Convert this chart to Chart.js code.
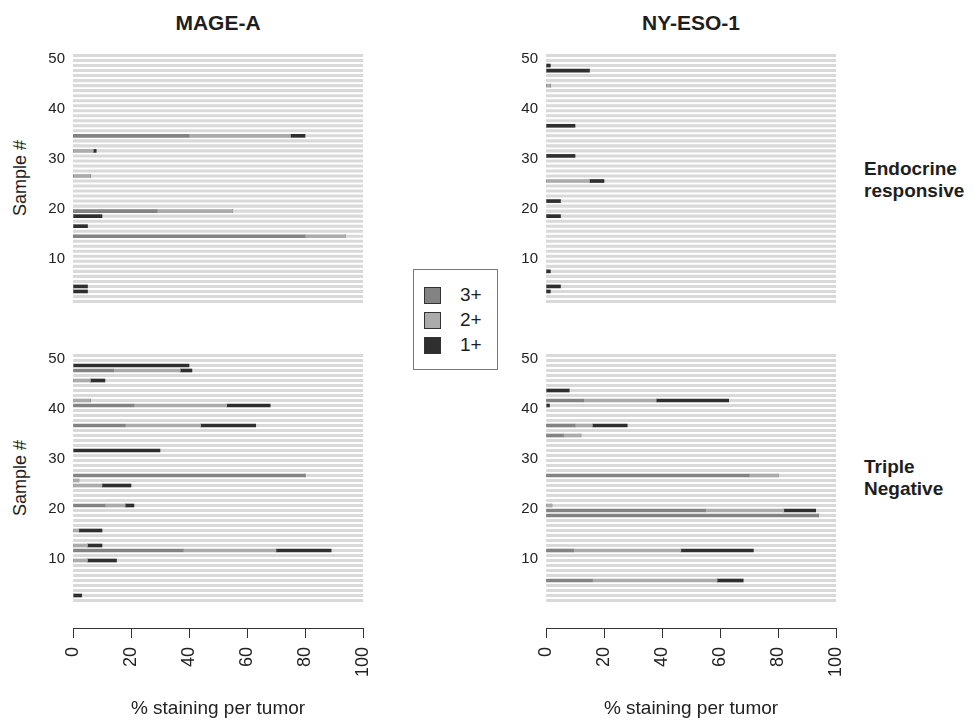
<!DOCTYPE html>
<html>
<head>
<meta charset="utf-8">
<script src="https://cdn.jsdelivr.net/npm/chart.js@4.4.0/dist/chart.umd.min.js"></script>
<style>
  html, body { margin: 0; padding: 0; background: #fff; }
  body { width: 974px; height: 721px; position: relative; overflow: hidden;
         font-family: 'Liberation Sans', Arial, sans-serif; color: #1e1e1e; }
  canvas { position: absolute; }
  .title { position: absolute; top: 11px; width: 290px; text-align: center;
           font-weight: bold; font-size: 21px; line-height: 24px; }
  .ylab { position: absolute; left: 20px; font-size: 18px; white-space: nowrap;
          transform: translate(-50%, -50%) rotate(-90deg); }
  .group { position: absolute; left: 864px; font-weight: bold; font-size: 19px;
           line-height: 22px; white-space: nowrap; }
  #legend { position: absolute; left: 413px; top: 269px; width: 83px; height: 99px;
            border: 1px solid #777; background: #fff; }
  .key { position: absolute; left: 10px; height: 16px; }
  .key span.box { position: absolute; left: 0; top: 0; width: 15px; height: 15px; border: 1px solid #333; }
  .key span.txt { position: absolute; left: 36px; top: -3px; font-size: 19px; line-height: 22px; color: #1e1e1e; }
</style>
</head>
<body>
<div class="title" style="left:73px">MAGE-A</div>
<div class="title" style="left:546px">NY-ESO-1</div>
<div class="ylab" style="top:178px">Sample #</div>
<div class="ylab" style="top:478px">Sample #</div>
<div class="group" style="top:158px">Endocrine<br>responsive</div>
<div class="group" style="top:456px">Triple<br>Negative</div>

<canvas id="mageEndo" width="380" height="280" style="left:0;top:40px"></canvas>
<canvas id="nyesoEndo" width="373" height="280" style="left:480px;top:40px"></canvas>
<canvas id="mageTn" width="380" height="381" style="left:0;top:340px"></canvas>
<canvas id="nyesoTn" width="373" height="381" style="left:480px;top:340px"></canvas>
<div id="legend"></div>

<script>
const sampleNumbers = [1, 2, 3, 4, 5, 6, 7, 8, 9, 10, 11, 12, 13, 14, 15, 16, 17, 18, 19, 20,
  21, 22, 23, 24, 25, 26, 27, 28, 29, 30, 31, 32, 33, 34, 35, 36, 37, 38, 39, 40,
  41, 42, 43, 44, 45, 46, 47, 48, 49, 50];
const gradeLabels = ['3+', '2+', '1+'];
const gradeColors = ['#838383', '#ababab', '#2f2f2f'];
const rowColor = '#d9d9d9';
const xTicks = [0, 20, 40, 60, 80, 100];
const yTicks = [10, 20, 30, 40, 50];

// MAGE-A, endocrine responsive
const mageEndoSamples = [3, 4, 14, 16, 18, 19, 26, 31, 34];
const mageEndo3 = [0, 0, 80, 0, 0, 29, 0, 0, 40];
const mageEndo2 = [0, 0, 14, 0, 0, 26, 6, 7, 35];
const mageEndo1 = [5, 5, 0, 5, 10, 0, 0, 1, 5];

// NY-ESO-1, endocrine responsive
const nyesoEndoSamples = [3, 4, 7, 18, 21, 25, 30, 36, 44, 47, 48];
const nyesoEndo3 = [0, 0, 0, 0, 0, 0, 0, 0, 0, 0, 0];
const nyesoEndo2 = [0, 0, 0, 0, 0, 15, 0, 0, 1.5, 0, 0];
const nyesoEndo1 = [1.5, 5, 1.5, 5, 5, 5, 10, 10, 0, 15, 1.5];

// MAGE-A, triple negative
const mageTnSamples = [2, 9, 11, 12, 15, 20, 24, 25, 26, 31, 36, 40, 41, 45, 47, 48];
const mageTn3 = [0, 0, 38, 0, 0, 11, 0, 0, 80, 0, 18, 21, 0, 0, 14, 0];
const mageTn2 = [0, 5, 32, 5, 2, 7, 10, 2, 0, 0, 26, 32, 6, 6, 23, 0];
const mageTn1 = [3, 10, 19, 5, 8, 3, 10, 0, 0, 30, 19, 15, 0, 5, 4, 40];

// NY-ESO-1, triple negative
const nyesoTnSamples = [5, 11, 18, 19, 20, 26, 34, 36, 40, 41, 43];
const nyesoTn3 = [16, 9.5, 94, 55, 0, 70, 6, 10, 0, 13, 0];
const nyesoTn2 = [43, 37, 0, 27, 2, 10, 6, 6, 0, 25, 0];
const nyesoTn1 = [9, 25, 0, 11, 0, 0, 0, 12, 1.2, 25, 8];

Chart.defaults.font.family = "'Liberation Sans', Arial, sans-serif";
Chart.defaults.color = '#333';

function makePanel(canvasId, samples, grades, withXAxis, yAxisWidth) {
  const xMax = xTicks[xTicks.length - 1];
  const datasets = grades.map((vals, g) => ({
    label: gradeLabels[g],
    data: samples.map((s, i) => ({ x: vals[i], y: s })),
    backgroundColor: gradeColors[g],
    stack: 'stain',
    grouped: false,
    barThickness: 3,
    order: 1
  }));
  datasets.push({
    label: 'row',
    data: sampleNumbers.map(s => ({ x: xMax, y: s })),
    backgroundColor: rowColor,
    stack: 'row',
    grouped: false,
    barThickness: 2.4,
    order: 5
  });

  return new Chart(document.getElementById(canvasId), {
    type: 'bar',
    data: { datasets },
    options: {
      indexAxis: 'y',
      responsive: false,
      animation: false,
      layout: { padding: { top: 13, bottom: withXAxis ? 0 : 16, left: 0, right: 17 } },
      plugins: { legend: { display: false }, tooltip: { enabled: false } },
      scales: {
        x: {
          type: 'linear',
          stacked: true,
          min: 0,
          max: xMax,
          display: withXAxis,
          afterBuildTicks: s => { s.ticks = xTicks.map(v => ({ value: v })); },
          afterFit: s => {
            if (withXAxis) s.height = 93;
            // keep the plot width fixed; the rotated end labels fit in the canvas padding
            s.paddingLeft = 0;
            s.paddingRight = 0;
          },
          grid: { drawOnChartArea: false, drawTicks: true, tickLength: 10, color: '#333', lineWidth: 1 },
          border: { display: true, color: '#333', width: 1 },
          ticks: { font: { size: 18 }, color: '#222', minRotation: 90, maxRotation: 90, padding: 9, autoSkip: false },
          title: { display: true, text: '% staining per tumor', font: { size: 19 }, color: '#222', padding: { top: 0, bottom: 1 } }
        },
        y: {
          type: 'linear',
          offset: false,
          min: withXAxis ? -4.5 : 0.5,
          max: 50.5,
          afterBuildTicks: s => { s.ticks = yTicks.map(v => ({ value: v })); },
          afterFit: s => { s.width = yAxisWidth; s.paddingTop = 0; s.paddingBottom = 0; },
          grid: { display: false, drawTicks: false },
          border: { display: false },
          ticks: { font: { size: 15 }, color: '#222', padding: 8, labelOffset: 3 }
        }
      }
    }
  });
}

makePanel('mageEndo', mageEndoSamples, [mageEndo3, mageEndo2, mageEndo1], false, 73);
makePanel('nyesoEndo', nyesoEndoSamples, [nyesoEndo3, nyesoEndo2, nyesoEndo1], false, 66);
makePanel('mageTn', mageTnSamples, [mageTn3, mageTn2, mageTn1], true, 73);
makePanel('nyesoTn', nyesoTnSamples, [nyesoTn3, nyesoTn2, nyesoTn1], true, 66);

// legend box between the panels
const legend = document.getElementById('legend');
gradeLabels.forEach((lab, g) => {
  const row = document.createElement('div');
  row.className = 'key';
  row.style.top = (17 + g * 25) + 'px';
  row.innerHTML = '<span class="box" style="background:' + gradeColors[g] + '"></span><span class="txt">' + lab + '</span>';
  legend.appendChild(row);
});
</script>
</body>
</html>
